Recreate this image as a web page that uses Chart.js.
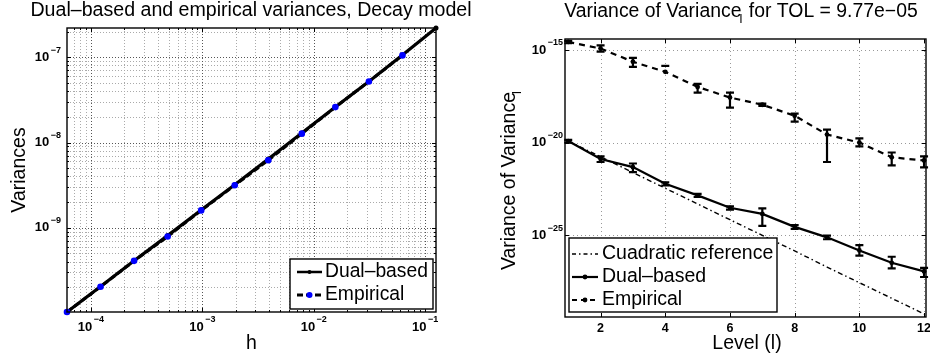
<!DOCTYPE html>
<html>
<head>
<meta charset="utf-8">
<script src="https://cdn.jsdelivr.net/npm/chart.js@4.4.0/dist/chart.umd.min.js"></script>
<style>
  body { margin: 0; background: #fff; }
  #wrap { position: relative; width: 930px; height: 362px; }
  canvas { position: absolute; left: 0; top: 0; }
</style>
</head>
<body>
<div id="wrap">
  <canvas id="left" width="930" height="362"></canvas>
  <canvas id="right" width="930" height="362"></canvas>
</div>
<script>
// left panel: variances against h
const hValues = [6.1035e-5, 1.2207e-4, 2.4414e-4, 4.8828e-4, 9.7656e-4, 1.9531e-3, 3.9063e-3, 7.8125e-3, 1.5625e-2, 3.125e-2, 6.25e-2, 0.125];
const dualVar = [1.03e-10, 2.05e-10, 4.1e-10, 8.1e-10, 1.62e-9, 3.2e-9, 6.4e-9, 1.29e-8, 2.6e-8, 5.2e-8, 1.06e-7, 2.2e-7];
const empVar = [1.03e-10, 2.04e-10, 4.1e-10, 7.9e-10, 1.6e-9, 3.15e-9, 6.2e-9, 1.27e-8, 2.6e-8, 5.2e-8, 1.05e-7];
const hTicks = [1e-4, 1e-3, 1e-2, 1e-1];
const hTickExp = ['\u22124', '\u22123', '\u22122', '\u22121'];
const varTicks = [1e-9, 1e-8, 1e-7];
const varTickExp = ['\u22129', '\u22128', '\u22127'];

// right panel: variance of variance per level
const levels = [1, 2, 3, 4, 5, 6, 7, 8, 9, 10, 11, 12];
const refVoV = [1.2e-20, 1.7e-21, 2.4e-22, 3.4e-23, 4.8e-24, 6.8e-25, 9.7e-26, 1.4e-26, 1.9e-27, 2.7e-28, 3.9e-29, 5.5e-30];
const dualVoV = [1.2e-20, 1.3e-21, 4.7e-22, 5.9e-23, 1.4e-23, 3e-24, 1.4e-24, 2.8e-25, 7.6e-26, 1.5e-26, 3.2e-27, 1.1e-27];
const dualLow = [1.0e-20, 8.9e-22, 2.5e-22, 4.8e-23, 1.15e-23, 2.4e-24, 3.2e-25, 2.2e-25, 6e-26, 7.8e-27, 1.6e-27, 5.5e-28];
const dualHigh = [1.4e-20, 1.78e-21, 7.4e-22, 7e-23, 1.7e-23, 3.6e-24, 2.8e-24, 3.5e-25, 9.5e-26, 2.9e-26, 6.8e-27, 1.7e-27];
const empVoV = [2.7e-15, 1.2e-15, 2.3e-16, 6.6e-17, 1.0e-17, 2.7e-18, 1.1e-18, 2.8e-19, 2.7e-20, 1e-20, 1.6e-21, 1.07e-21];
const empLow = [2.3e-15, 8.1e-16, 1.23e-16, null, 4.9e-18, 7.6e-19, 9.5e-19, 1.35e-19, 8.9e-22, 6.2e-21, 5.8e-22, 4.6e-22];
const empHigh = [3.1e-15, 1.78e-15, 3.7e-16, 1.38e-16, 1.48e-17, 4.9e-18, 1.25e-18, 3.6e-19, 5e-20, 1.66e-20, 2.9e-21, 1.8e-21];
const levelTicks = [2, 4, 6, 8, 10, 12];
const vovTicks = [1e-25, 1e-20, 1e-15];
const vovTickExp = ['\u221225', '\u221220', '\u221215'];

const FONT = '"Liberation Sans", Arial, Helvetica, sans-serif';

function txt(ctx, s, x, y, size, align, bold) {
    ctx.font = (bold ? 'bold ' : '') + size + 'px ' + FONT;
    ctx.textAlign = align || 'center';
    ctx.textBaseline = 'middle';
    ctx.fillStyle = '#000';
    ctx.fillText(s, x, y);
}

// "10" with a raised exponent, like the matlab tick labels
function powLabel(ctx, exp, x, y, align) {
    ctx.font = 'bold 13px ' + FONT;
    let wb = ctx.measureText('10').width;
    ctx.font = 'bold 9px ' + FONT;
    let we = ctx.measureText(exp).width;
    let total = wb + 1.5 + we;
    let x0 = align === 'right' ? x - total : x - total / 2;
    txt(ctx, '10', x0, y, 13, 'left', true);
    txt(ctx, exp, x0 + wb + 1.5, y - 7, 9, 'left', true);
}

function minorsOf(min, max) {
    let out = [];
    for (let d = Math.floor(Math.log10(min)); d <= Math.ceil(Math.log10(max)); d++) {
        for (let k = 1; k <= 9; k++) {
            let v = k * Math.pow(10, d);
            if (v >= min && v <= max) out.push(v);
        }
    }
    return out;
}

function gridLines(chart, xs, ys, color, dash) {
    const ctx = chart.ctx, a = chart.chartArea;
    const sx = chart.scales.x, sy = chart.scales.y;
    ctx.save();
    ctx.strokeStyle = color;
    ctx.lineWidth = 1;
    ctx.setLineDash(dash);
    xs.forEach(v => {
        let px = Math.round(sx.getPixelForValue(v)) + 0.5;
        ctx.beginPath(); ctx.moveTo(px, a.top); ctx.lineTo(px, a.bottom); ctx.stroke();
    });
    ys.forEach(v => {
        let py = Math.round(sy.getPixelForValue(v)) + 0.5;
        ctx.beginPath(); ctx.moveTo(a.left, py); ctx.lineTo(a.right, py); ctx.stroke();
    });
    ctx.restore();
}

function ticksInside(chart, xs, ys, len) {
    const ctx = chart.ctx, a = chart.chartArea;
    const sx = chart.scales.x, sy = chart.scales.y;
    ctx.save();
    ctx.strokeStyle = '#000';
    ctx.lineWidth = 1;
    xs.forEach(v => {
        let px = Math.round(sx.getPixelForValue(v)) + 0.5;
        ctx.beginPath();
        ctx.moveTo(px, a.bottom); ctx.lineTo(px, a.bottom - len);
        ctx.moveTo(px, a.top); ctx.lineTo(px, a.top + len);
        ctx.stroke();
    });
    ys.forEach(v => {
        let py = Math.round(sy.getPixelForValue(v)) + 0.5;
        ctx.beginPath();
        ctx.moveTo(a.left, py); ctx.lineTo(a.left + len, py);
        ctx.moveTo(a.right, py); ctx.lineTo(a.right - len, py);
        ctx.stroke();
    });
    ctx.restore();
}

function box(chart) {
    const ctx = chart.ctx, a = chart.chartArea;
    ctx.save();
    ctx.strokeStyle = '#000';
    ctx.lineWidth = 1.4;
    ctx.strokeRect(a.left, a.top, a.right - a.left, a.bottom - a.top);
    ctx.restore();
}

function legendSample(ctx, x0, x1, y, dash, width, dotColor, dotR) {
    ctx.save();
    ctx.strokeStyle = '#000';
    ctx.lineWidth = width;
    ctx.setLineDash(dash);
    ctx.beginPath(); ctx.moveTo(x0, y); ctx.lineTo(x1, y); ctx.stroke();
    if (dotR) {
        ctx.fillStyle = dotColor;
        ctx.beginPath(); ctx.arc((x0 + x1) / 2, y, dotR, 0, Math.PI * 2); ctx.fill();
    }
    ctx.restore();
}

function legendBox(ctx, x, y, w, h) {
    ctx.save();
    ctx.fillStyle = '#fff';
    ctx.fillRect(x, y, w, h);
    ctx.strokeStyle = '#000';
    ctx.lineWidth = 1.4;
    ctx.strokeRect(x, y, w, h);
    ctx.restore();
}

const leftDecor = {
    id: 'leftDecor',
    beforeDatasetsDraw(chart) {
        const sx = chart.scales.x, sy = chart.scales.y;
        gridLines(chart, minorsOf(sx.min, sx.max), minorsOf(sy.min, sy.max), '#aaa', [1, 2]);
        gridLines(chart, hTicks, varTicks, '#555', [1, 2]);
    },
    afterDatasetsDraw(chart) {
        const ctx = chart.ctx, a = chart.chartArea;
        const sx = chart.scales.x, sy = chart.scales.y;
        ticksInside(chart, minorsOf(sx.min, sx.max), minorsOf(sy.min, sy.max), 2);
        ticksInside(chart, hTicks, varTicks, 4);
        box(chart);
        hTicks.forEach((v, i) => powLabel(ctx, hTickExp[i], sx.getPixelForValue(v), a.bottom + 15, 'center'));
        varTicks.forEach((v, i) => powLabel(ctx, varTickExp[i], a.left - 6, sy.getPixelForValue(v), 'right'));

        txt(ctx, 'Dual\u2013based and empirical variances, Decay model', 251, 11, 19.6, 'center');
        txt(ctx, 'h', (a.left + a.right) / 2, 344, 19.5, 'center');
        ctx.save();
        ctx.translate(20, (a.top + a.bottom) / 2);
        ctx.rotate(-Math.PI / 2);
        txt(ctx, 'Variances', 0, 0, 19.5, 'center');
        ctx.restore();

        // legend
        legendBox(ctx, 290, 259, 143, 50);
        const ds = chart.data.datasets;
        legendSample(ctx, 297, 322, 272, [], 2.5, '#000', 2);
        txt(ctx, ds[0].label, 325, 272, 19.3, 'left');
        legendSample(ctx, 297, 322, 295, [6, 3], 3, '#0000ff', 3);
        txt(ctx, ds[1].label, 325, 295, 19.3, 'left');
    }
};

const rightDecor = {
    id: 'rightDecor',
    beforeDatasetsDraw(chart) {
        gridLines(chart, levelTicks, vovTicks, '#999', [1, 3]);
    },
    afterDatasetsDraw(chart) {
        const ctx = chart.ctx, a = chart.chartArea;
        const sx = chart.scales.x, sy = chart.scales.y;

        // error bars
        ctx.save();
        ctx.strokeStyle = '#000';
        ctx.lineWidth = 2.2;
        chart.data.datasets.forEach(ds => {
            if (!ds.errHigh) return;
            ds.data.forEach((p, i) => {
                let px = sx.getPixelForValue(p.x);
                let hi = ds.errHigh[i], lo = ds.errLow[i];
                let yh = sy.getPixelForValue(hi);
                ctx.beginPath();
                ctx.moveTo(px - 4, yh); ctx.lineTo(px + 4, yh);
                if (lo !== null) {
                    let yl = sy.getPixelForValue(lo);
                    ctx.moveTo(px, yh); ctx.lineTo(px, yl);
                    ctx.moveTo(px - 4, yl); ctx.lineTo(px + 4, yl);
                }
                ctx.stroke();
            });
        });
        ctx.restore();

        ticksInside(chart, levelTicks, vovTicks, 4);
        box(chart);
        levelTicks.forEach(v => txt(ctx, String(v), sx.getPixelForValue(v), a.bottom + 12, 12.5, 'center', true));
        vovTicks.forEach((v, i) => powLabel(ctx, vovTickExp[i], a.left - 2, sy.getPixelForValue(v), 'right'));

        // title with subscript l
        ctx.font = '19.4px ' + FONT;
        const t1 = 'Variance of Variance', t2 = ' for TOL = 9.77e\u221205';
        let w1 = ctx.measureText(t1).width, w2 = ctx.measureText(t2).width;
        let tx = 741 - (w1 + w2 + 2) / 2;
        txt(ctx, t1, tx, 12, 19.4, 'left');
        txt(ctx, 'l', tx + w1 - 2, 19, 13, 'left');
        txt(ctx, t2, tx + w1 + 2, 12, 19.4, 'left');

        txt(ctx, 'Level (l)', 747, 344, 19.5, 'center');

        ctx.save();
        ctx.translate(510, 179);
        ctx.rotate(-Math.PI / 2);
        ctx.font = '19.5px ' + FONT;
        let wy = ctx.measureText(t1).width;
        txt(ctx, t1, -wy / 2 - 2, 0, 19.5, 'left');
        txt(ctx, 'l', wy / 2 - 4, 7, 13, 'left');
        ctx.restore();

        // legend
        legendBox(ctx, 569, 238, 208, 74);
        const ds = chart.data.datasets;
        legendSample(ctx, 572, 598, 254, [4, 3, 1.5, 3], 1.4, null, 0);
        txt(ctx, ds[0].label, 602, 254, 19.5, 'left');
        legendSample(ctx, 572, 598, 277, [], 2.2, '#000', 2.4);
        txt(ctx, ds[1].label, 602, 277, 19.5, 'left');
        legendSample(ctx, 572, 598, 300, [5, 4], 2.2, '#000', 2.4);
        txt(ctx, ds[2].label, 602, 300, 19.5, 'left');
    }
};

const common = {
    responsive: false,
    animation: false,
    devicePixelRatio: 1,
    events: [],
    plugins: { legend: { display: false }, tooltip: { enabled: false } },
    elements: { line: { tension: 0 } }
};

new Chart(document.getElementById('left'), {
    type: 'line',
    data: {
        datasets: [
            {
                label: 'Dual\u2013based',
                data: hValues.map((h, i) => ({ x: h, y: dualVar[i] })),
                borderColor: '#000', borderWidth: 3.2,
                pointRadius: 2.5, pointBackgroundColor: '#000', pointBorderWidth: 0,
                order: 1, clip: false
            },
            {
                label: 'Empirical',
                data: empVar.map((v, i) => ({ x: hValues[i], y: v })),
                borderColor: '#000', borderWidth: 3, borderDash: [6, 3],
                pointRadius: 3.3, pointBackgroundColor: '#0000ff', pointBorderColor: '#0000ff', pointBorderWidth: 0,
                order: 0, clip: false
            }
        ]
    },
    options: Object.assign({}, common, {
        layout: { padding: { left: 67, right: 494, top: 28, bottom: 50 } },
        scales: {
            x: { type: 'logarithmic', min: hValues[0], max: hValues[hValues.length - 1], display: false },
            y: { type: 'logarithmic', min: dualVar[0], max: dualVar[dualVar.length - 1], display: false }
        }
    }),
    plugins: [leftDecor]
});

new Chart(document.getElementById('right'), {
    type: 'line',
    data: {
        datasets: [
            {
                label: 'Cuadratic reference',
                data: levels.map((l, i) => ({ x: l, y: refVoV[i] })),
                borderColor: '#000', borderWidth: 1.4, borderDash: [5, 3, 1.5, 3],
                pointRadius: 0, clip: false
            },
            {
                label: 'Dual\u2013based',
                data: levels.map((l, i) => ({ x: l, y: dualVoV[i] })),
                errLow: dualLow, errHigh: dualHigh,
                borderColor: '#000', borderWidth: 2.2,
                pointRadius: 2.4, pointBackgroundColor: '#000', pointBorderWidth: 0, clip: false
            },
            {
                label: 'Empirical',
                data: levels.map((l, i) => ({ x: l, y: empVoV[i] })),
                errLow: empLow, errHigh: empHigh,
                borderColor: '#000', borderWidth: 2.2, borderDash: [6, 5],
                pointRadius: 2.4, pointBackgroundColor: '#000', pointBorderWidth: 0, clip: false
            }
        ]
    },
    options: Object.assign({}, common, {
        layout: { padding: { left: 565, right: 3, top: 39, bottom: 45 } },
        scales: {
            x: { type: 'linear', min: 0.9, max: 12.06, display: false },
            y: { type: 'logarithmic', min: 3.8e-30, max: 3.9e-15, display: false }
        }
    }),
    plugins: [rightDecor]
});
</script>
</body>
</html>
